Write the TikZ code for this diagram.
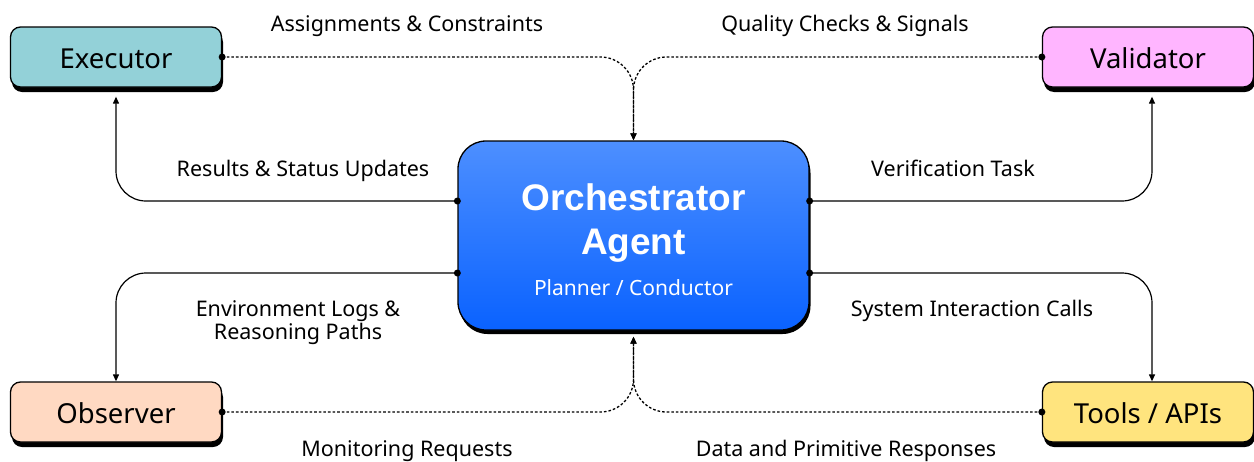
\documentclass[tikz,border=0pt]{standalone}
\usepackage{fontspec}
\setmainfont{Noto Sans}
\newfontfamily\heavyfont{Liberation Sans}
\usetikzlibrary{arrows.meta,shadows}
\definecolor{execfill}{HTML}{93D1D8}
\definecolor{valfill}{HTML}{FFB5FF}
\definecolor{obsfill}{HTML}{FFD9C2}
\definecolor{toolfill}{HTML}{FFE47E}
\definecolor{orchtop}{HTML}{4D8FFF}
\definecolor{orchbot}{HTML}{0A62FF}
\tikzset{
  agent/.style={draw=black, line width=1.3pt, rounded corners=10pt,
    minimum width=211pt, minimum height=60pt, inner sep=0pt,
    font=\fontsize{27.5}{32}\selectfont, text height=22pt, text depth=0pt,
    drop shadow={fill=black, opacity=1, shadow xshift=1.5pt, shadow yshift=-5pt}},
  hub/.style={draw=black, line width=1.3pt, rounded corners=28pt,
    minimum width=351pt, minimum height=189pt, inner sep=0pt,
    top color=orchtop, bottom color=orchbot,
    drop shadow={fill=black, opacity=1, shadow xshift=1.5pt, shadow yshift=-4pt}},
  hubtext/.style={text=white, anchor=base, inner sep=0pt},
  link/.style={line width=1.2pt, -{Triangle[length=7pt,width=6pt]}},
  dotlink/.style={link, dash pattern=on 2.6pt off 2pt, line width=1.3pt},
  lbl/.style={font=\fontsize{21.5}{26}\selectfont, anchor=base, inner sep=0pt},
  pin/.style={fill=black}
}
\begin{document}
\begin{tikzpicture}[x=1pt, y=-1pt]
  \useasboundingbox (0,0) rectangle (1254,461);

  % agents
  \node[agent, fill=execfill] (exec) at (116,57) {Executor};
  \node[agent, fill=valfill]  (val)  at (1148,57) {Validator};
  \node[agent, fill=obsfill]  (obs)  at (116,412) {Observer};
  \node[agent, fill=toolfill] (tool) at (1148,412) {Tools / APIs};

  % central orchestrator
  \node[hub] (orch) at (633.5,235.5) {};
  \node[hubtext, font=\heavyfont\bfseries\fontsize{37}{44}\selectfont] (orchT) at (633.5,210) {Orchestrator};
  \node[hubtext, font=\heavyfont\bfseries\fontsize{37}{44}\selectfont] (orchA) at (633.5,254.5) {Agent};
  \node[hubtext, font=\fontsize{21}{24}\selectfont] (orchS) at (633.5,295) {Planner / Conductor};

  % ports on the orchestrator
  \coordinate (oL1) at ([yshift=34.5pt]orch.west);
  \coordinate (oL2) at ([yshift=-37.5pt]orch.west);
  \coordinate (oR1) at ([yshift=34.5pt]orch.east);
  \coordinate (oR2) at ([yshift=-37.5pt]orch.east);
  \coordinate (oTop) at (orch.north);
  \coordinate (oBot) at ([yshift=-6pt]orch.south);

  % dotted feeds into the orchestrator
  \draw[dotlink, rounded corners=33pt] (exec.east) -| (oTop);
  \draw[dotlink, rounded corners=33pt] (val.west) -| (oTop);
  \draw[dotlink, rounded corners=33pt] (obs.east) -| (oBot);
  \draw[dotlink, rounded corners=33pt] (tool.west) -| (oBot);

  % solid dispatches from the orchestrator
  \draw[link, rounded corners=30pt] (oL1) -| ([yshift=-9pt]exec.south);
  \draw[link, rounded corners=30pt] (oR1) -| ([xshift=4pt,yshift=-9pt]val.south);
  \draw[link, rounded corners=30pt] (oL2) -| (obs.north);
  \draw[link, rounded corners=30pt] (oR2) -| ([xshift=4pt]tool.north);

  % connector dots
  \foreach \p in {exec.east, val.west, obs.east, tool.west, oL1, oL2, oR1, oR2}
    \fill[pin] (\p) circle[radius=3.5pt];

  % connector labels
  \node[lbl] (l1) at (407,31) {Assignments \& Constraints};
  \node[lbl] (l2) at (845,31) {Quality Checks \& Signals};
  \node[lbl] (l3) at (303,176.5) {Results \& Status Updates};
  \node[lbl] (l4) at (953,176.5) {Verification Task};
  \node[lbl] (l5) at (298,316) {Environment Logs \&};
  \node[lbl] (l5b) at (298,339.5) {Reasoning Paths};
  \node[lbl] (l6) at (972,316.5) {System Interaction Calls};
  \node[lbl] (l7) at (407,456) {Monitoring Requests};
  \node[lbl] (l8) at (846,456) {Data and Primitive Responses};
\end{tikzpicture}
\end{document}
